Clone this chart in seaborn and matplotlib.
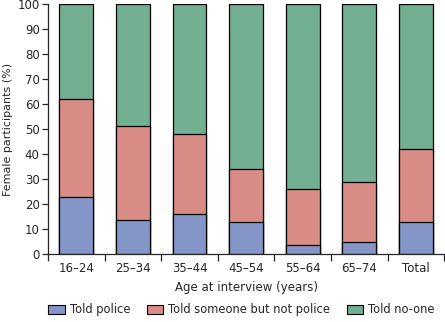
import matplotlib
matplotlib.use("Agg")
import matplotlib.pyplot as plt
import seaborn as sns
import pandas as pd
import numpy as np
from matplotlib.patches import Patch
from matplotlib.ticker import FixedLocator

categories = ["16–24", "25–34", "35–44", "45–54", "55–64", "65–74", "Total"]
told_police = [23, 13.5, 16, 13, 3.5, 5, 13]
told_someone = [39, 37.5, 32, 21, 22.5, 24, 29]
told_noone = [38, 49, 52, 66, 74, 71, 58]
series_names = ["Told police", "Told someone but not police", "Told no-one"]
colors = ["#8496C8", "#D98C85", "#72AE90"]

sns.set_style("ticks")
plt.rcParams['font.family'] = ['DejaVu Sans']

df = pd.DataFrame({"cat": categories, "p": told_police, "s": told_someone, "n": told_noone})
df["top_s"] = df["p"] + df["s"]
df["top_n"] = df["top_s"] + df["n"]

fig = plt.figure(figsize=(4.45, 3.22), dpi=100)
ax = fig.add_axes([0.108, 0.211, 0.89, 0.777])

for col, c in zip(["top_n", "top_s", "p"], [colors[2], colors[1], colors[0]]):
    sns.barplot(data=df, x="cat", y=col, color=c, width=0.6, edgecolor="black",
                linewidth=0.9, saturation=1, ax=ax, order=categories)

ax.set_ylim(0, 100)
ax.set_xlim(-0.5, len(categories) - 0.5)
ax.set_yticks(range(0, 101, 10))
ax.xaxis.set_minor_locator(FixedLocator(np.arange(-0.5, len(categories), 1.0)))
ax.tick_params(axis="x", which="major", length=0, labelsize=8.5, pad=6)
ax.tick_params(axis="x", which="minor", length=5, width=0.9, direction="out")
ax.tick_params(axis="y", length=4, width=0.9, labelsize=8.5, pad=2)
ax.set_ylabel("Female participants (%)", fontsize=8, labelpad=3)
ax.set_xlabel("Age at interview (years)", fontsize=8.5, labelpad=4)
for s in ["top", "right"]:
    ax.spines[s].set_visible(False)
for s in ["left", "bottom"]:
    ax.spines[s].set_linewidth(0.9)

handles = [Patch(facecolor=c, edgecolor="black", linewidth=0.8) for c in colors]
fig.legend(handles, series_names, loc="lower center", ncol=3, frameon=False,
           fontsize=8.3, bbox_to_anchor=(0.543, -0.014), handlelength=1.4,
           handleheight=0.85, columnspacing=1.45, handletextpad=0.45)

fig.savefig("out.png", dpi=100)
